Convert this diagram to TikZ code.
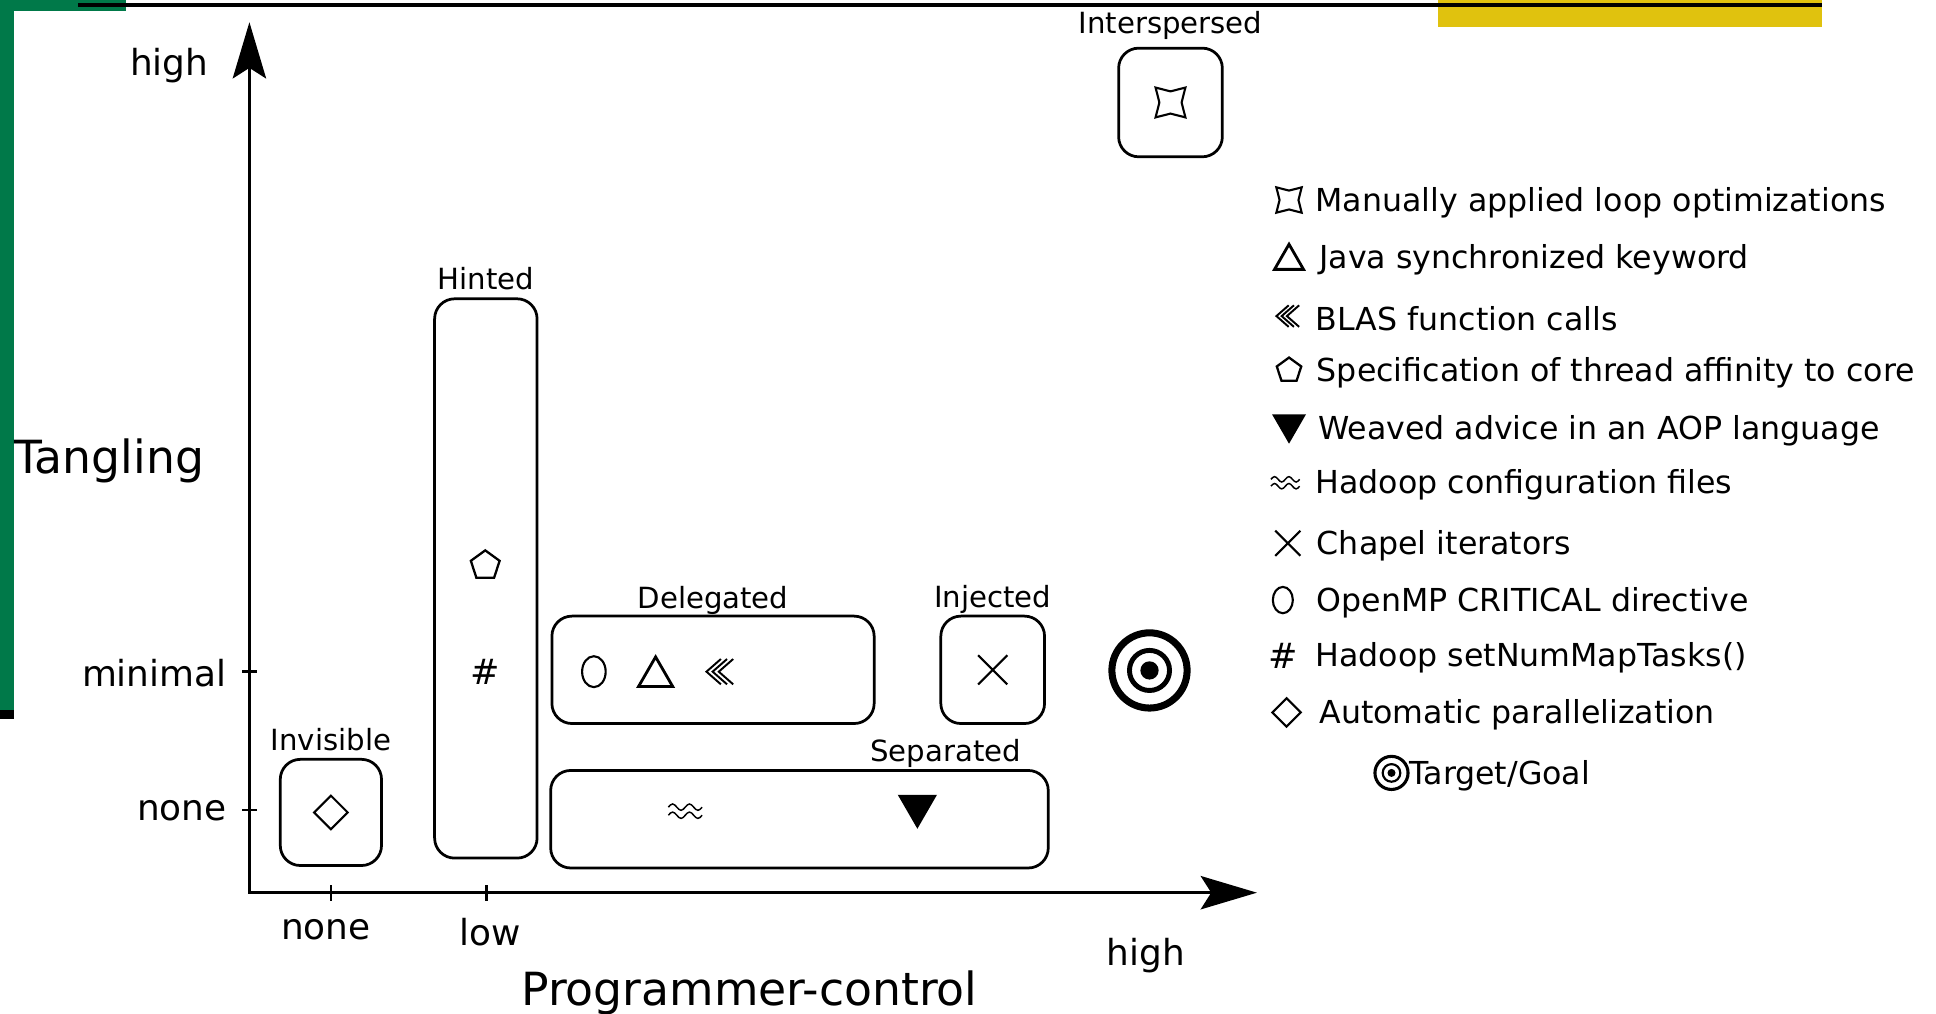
\documentclass[tikz,border=0pt]{standalone}
\usepackage{fontspec}
\setmainfont{DejaVu Sans}
\usetikzlibrary{positioning, fit, arrows.meta, shapes.geometric, shapes.misc}
\definecolor{barGreen}{RGB}{0,121,73}
\definecolor{barYellow}{RGB}{224,194,14}
\newcommand\marksc{1}

\tikzset{
  box/.style={draw, rounded corners=5.7pt, line width=0.78pt, inner sep=0pt},
  lbl/.style={font=\fontsize{8.3}{10}\selectfont, inner sep=0pt, text depth=0pt},
  tk/.style={font=\fontsize{10.2}{12}\selectfont, inner sep=0pt},
  big/.style={font=\fontsize{13}{15}\selectfont, inner sep=0pt},
  leg/.style={font=\fontsize{9}{11}\selectfont, inner sep=0pt, anchor=west},
  axis/.style={line width=0.7pt, {Stealth[length=16pt,width=9.5pt,inset=3pt]}-{Stealth[length=16pt,width=9.5pt,inset=3pt]}},
  symb/.style={draw, inner sep=0pt, line width=0.65pt},
  markStar/.style={symb, star, star points=4, star point ratio=1.9, shape border rotate=45, minimum size=\marksc*12pt, line width=0.6pt},
  markTri/.style={symb, regular polygon, regular polygon sides=3, minimum size=\marksc*11.2pt, yshift=-\marksc*1.4pt, line width=0.8pt},
  markDown/.style={symb, fill, regular polygon, regular polygon sides=3, shape border rotate=180, minimum size=\marksc*11.6pt, yshift=\marksc*1.45pt},
  markPent/.style={symb, regular polygon, regular polygon sides=5, minimum size=\marksc*8.6pt},
  markDiam/.style={symb, diamond, minimum size=\marksc*9.8pt, line width=0.6pt},
  markOval/.style={symb, ellipse, minimum width=\marksc*6.7pt, minimum height=\marksc*8.8pt, line width=0.6pt},
  markX/.style={symb, cross out, minimum size=\marksc*7.7pt, line width=0.6pt},
  markBlas/.style={inner sep=0pt, minimum width=\marksc*9.5pt, minimum height=\marksc*8.5pt,
    path picture={
      \foreach \i in {0,1,2}
        \draw[line width=0.55pt]
          ([shift={(\marksc*\i*1.75pt+\marksc*0.3pt,\marksc*3.6pt)}]path picture bounding box.center)
          -- ++(-\marksc*4.1pt,-\marksc*3.6pt) -- ++(\marksc*4.1pt,-\marksc*3.6pt);
    }},
  markWave/.style={inner sep=0pt, minimum width=\marksc*11pt, minimum height=\marksc*7pt,
    path picture={
      \foreach \dy in {1.15,-1.15}
        \draw[line width=0.42pt]
          ([shift={(-\marksc*4.8pt,\dy*\marksc*1pt)}]path picture bounding box.center)
          sin ++(\marksc*1.2pt,\marksc*0.9pt) cos ++(\marksc*1.2pt,-\marksc*0.9pt)
          sin ++(\marksc*1.2pt,-\marksc*0.9pt) cos ++(\marksc*1.2pt,\marksc*0.9pt)
          sin ++(\marksc*1.2pt,\marksc*0.9pt) cos ++(\marksc*1.2pt,-\marksc*0.9pt)
          sin ++(\marksc*1.2pt,-\marksc*0.9pt) cos ++(\marksc*1.2pt,\marksc*0.9pt);
    }},
  markHash/.style={inner sep=0pt, font=\fontsize{10}{10}\selectfont},
  pics/goal/.style={code={
    \draw[line width={#1*2pt}] (0,0) circle[radius={#1*10.7pt}];
    \draw[line width={#1*1.4pt}] (0,0) circle[radius={#1*5.7pt}];
    \fill (0,0) circle[radius={#1*2.6pt}];
  }}
}

\begin{document}
\begin{tikzpicture}[x=0.012347cm, y=-0.012347cm]
  \useasboundingbox (0,0) rectangle (1568,821);
  \fill[barGreen] (0,0) rectangle (11.3,575);
  \fill[barGreen] (0,0) rectangle (102,8.7);
  \fill (0,575) rectangle (11.3,582);
  \fill[barYellow] (1165,0) rectangle (1476,22);
  \draw[line width=1.1pt] (63,3.9) -- (1476,3.9);

  \coordinate (orig) at (202,723);
  \coordinate (ytip) at (202,18);
  \coordinate (xtip) at (1018,723);
  \draw[axis] (ytip) -- (orig) -- (xtip);

  \node[big, anchor=west] (tangling) at (11,373) {Tangling};
  \node[big] (progctl) at (607,804) {Programmer-control};
  \node[tk] (yhigh) at (137,53) {high};
  \node[tk] (xhigh) at (928,774) {high};
  \foreach \y/\t in {544/minimal, 656/none}{
    \draw[line width=0.7pt] (196,\y) -- (208,\y);
    \node[tk, anchor=east] (ylab\t) at (184,\y+1) {\t};
  }
  \foreach \x/\lx/\ly/\t in {268/264/753/none, 394/397/755/low}{
    \draw[line width=0.7pt] (\x,717) -- (\x,730);
    \node[tk] (xlab\t) at (\lx,\ly) {\t};
  }

  \node[box, fit={(227,615) (309,701)}] (invis) {};
  \node[box, fit={(352,242) (435,695)}] (hint) {};
  \node[box, fit={(447,499) (708,586)}] (deleg) {};
  \node[box, fit={(762,499) (846,586)}] (inject) {};
  \node[box, fit={(446,624) (849,703)}] (separ) {};
  \node[box, fit={(906,39) (990,127)}] (inter) {};

  \node[lbl, above=2pt of invis] (invisLbl) {Invisible};
  \node[lbl, above=2pt of hint] (hintLbl) {Hinted};
  \node[lbl, above=1.6pt of deleg] (delegLbl) {Delegated};
  \node[lbl, above=2pt of inject] (injectLbl) {Injected};
  \node[lbl, above=2pt of separ.north east, xshift=-1.04cm] (separLbl) {Separated};
  \node[lbl, above=3.6pt of inter] (interLbl) {Interspersed};

  \node[markDiam] (autoPar) at (invis) {};
  \node[markPent] (affinity) at (393,458) {};
  \node[markHash] (mapTasks) at (393,544) {\#};
  \node[markOval] (ompCrit) at (481,544) {};
  \node[markTri] (javaSync) at (531,544) {};
  \node[markBlas] (blas) at (583,544) {};
  \node[markX] (chapel) at (inject) {};
  \node[markWave] (hadoopCfg) at (555,657) {};
  \node[markDown] (aop) at (743,657) {};
  \node[markStar] (loopOpt) at (inter) {};
  \pic at (931,543) {goal=1};

  \begin{scope}
    \renewcommand\marksc{0.85}
    \foreach \s/\g/\x/\y/\tx/\t in {
      markStar//1044/162/1065/Manually applied loop optimizations,
      markTri//1044/208/1068/Java synchronized keyword,
      markBlas//1043/256/1065/BLAS function calls,
      markPent//1044/300/1066/Specification of thread affinity to core,
      markDown//1044/347/1067/Weaved advice in an AOP language,
      markWave//1041/391/1065/Hadoop configuration files,
      markX//1043/440/1066/Chapel iterators,
      markOval//1039/486/1066/OpenMP CRITICAL directive,
      markHash/\#/1039/531/1065/Hadoop setNumMapTasks(),
      markDiam//1042/577/1068/Automatic parallelization}{
      \node[\s] (legMark\y) at (\x,\y) {\g};
      \node[leg] (legText\y) at (\tx,\y+2) {\t};
    }
  \end{scope}
  \pic at (1127,626) {goal=0.44};
  \node[leg] (legGoal) at (1141,628) {Target/Goal};
\end{tikzpicture}
\end{document}
